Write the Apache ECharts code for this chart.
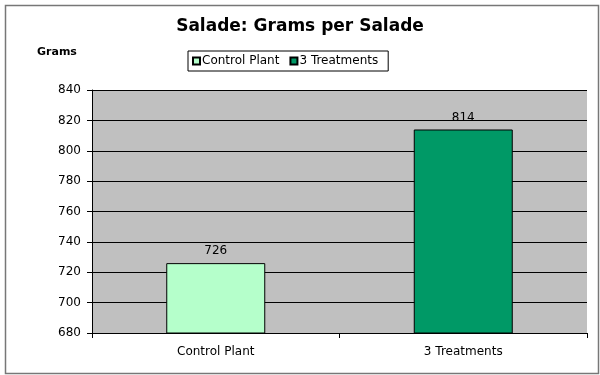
<!DOCTYPE html>
<html><head><meta charset="utf-8">
<script src="https://cdn.jsdelivr.net/npm/echarts@6/dist/echarts.min.js"></script>
<style>html,body{margin:0;padding:0;background:#fff}#c{width:600px;height:375px}</style>
</head><body>
<div id="c"></div>
<script>
var categories = ['Control Plant', '3 Treatments'];
var seriesNames = ['Control Plant', '3 Treatments'];
var controlValues = [726, '-'];
var treatmentValues = ['-', 814];
var yMin = 680, yMax = 840, yStep = 20;

var chart = echarts.init(document.getElementById('c'), null, {renderer: 'canvas'});
var font = 'Verdana, "DejaVu Sans", sans-serif';
chart.setOption({
  animation: false,
  graphic: [{
    type: 'rect', left: 3, top: 3, shape: {width: 593, height: 368},
    style: {fill: 'none', stroke: '#777', lineWidth: 1.5}, z: -1
  }, {
    type: 'text', left: 37, top: 47,
    style: {text: 'Grams', font: 'bold 11px ' + font, fill: '#000'}
  }],
  title: {
    text: 'Salade: Grams per Salade', left: 'center', top: 13,
    textStyle: {fontFamily: font, fontWeight: 'bold', fontSize: 17, color: '#000'}
  },
  legend: {
    top: 51, left: 188, itemWidth: 7, itemHeight: 7, itemGap: 10,
    padding: [4, 10, 4, 4],
    borderColor: '#000', borderWidth: 1, backgroundColor: '#fff',
    textStyle: {fontFamily: font, fontSize: 12, color: '#000', padding: [0, 0, 0, -3]},
    data: seriesNames.map(function (n) { return {name: n, icon: 'rect'}; })
  },
  grid: {left: 92, right: 13, top: 90, bottom: 42, show: true, backgroundColor: '#c0c0c0', borderWidth: 0},
  xAxis: {
    type: 'category', data: categories,
    axisLine: {lineStyle: {color: '#000'}},
    axisTick: {show: true, length: 5, lineStyle: {color: '#000'}},
    axisLabel: {fontFamily: font, fontSize: 12, color: '#000', margin: 13}
  },
  yAxis: {
    type: 'value', min: yMin, max: yMax, interval: yStep,
    axisLine: {show: true, lineStyle: {color: '#000'}},
    axisTick: {show: true, length: 5, lineStyle: {color: '#000'}},
    axisLabel: {fontFamily: font, fontSize: 12, color: '#000', margin: 11},
    splitLine: {lineStyle: {color: '#000', width: 1}}
  },
  series: [{
    name: seriesNames[0], type: 'bar', data: controlValues, barWidth: '40%', barGap: '-100%',
    itemStyle: {color: '#b5ffcb', borderColor: '#000', borderWidth: 1},
    label: {show: true, position: 'top', fontFamily: font, fontSize: 12, color: '#000', distance: 6}
  }, {
    name: seriesNames[1], type: 'bar', data: treatmentValues, barWidth: '40%',
    itemStyle: {color: '#009966', borderColor: '#000', borderWidth: 1},
    label: {show: true, position: 'top', fontFamily: font, fontSize: 12, color: '#000', distance: 6}
  }]
});
</script>
</body></html>
